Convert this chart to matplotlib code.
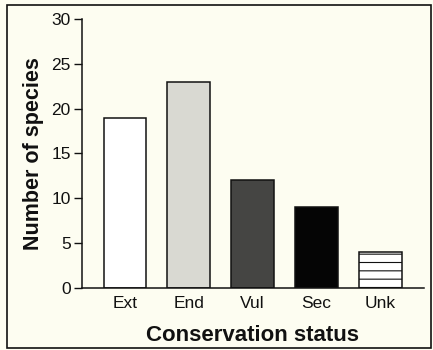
import matplotlib
matplotlib.use("Agg")
import matplotlib.pyplot as plt
from matplotlib.patches import Rectangle

categories = ["Ext", "End", "Vul", "Sec", "Unk"]
species_counts = [19, 23, 12, 9, 4]
y_ticks = [0, 5, 10, 15, 20, 25, 30]

bar_faces = ["#ffffff", "#d9d9d2", "#454543", "#050505", "#ffffff"]
bar_hatches = [None, None, None, None, "--"]

plt.rcParams["font.family"] = ["Liberation Sans", "DejaVu Sans"]
plt.rcParams["hatch.color"] = "#8a8a8a"
plt.rcParams["hatch.linewidth"] = 0.8

bg = "#fdfdf1"
fig = plt.figure(figsize=(4.33, 3.5), dpi=100, facecolor=bg)
ax = fig.add_axes([0.189, 0.178, 0.79, 0.767])
ax.set_facecolor(bg)

x = list(range(len(categories)))
bars = ax.bar(x, species_counts, width=0.665, color=bar_faces,
              edgecolor="#111111", linewidth=1.1)
for b, h in zip(bars, bar_hatches):
    if h:
        b.set_hatch(h)

ax.set_xlim(-0.673, 4.68)
ax.set_ylim(0, 30)
ax.set_yticks(y_ticks)
ax.set_xticks(x)
ax.set_xticklabels(categories)
ax.tick_params(axis="y", direction="out", length=6, width=1.0,
               labelsize=12.5, pad=2, colors="#111111")
ax.tick_params(axis="x", length=0, labelsize=12.5, pad=6, colors="#111111")

for side in ("top", "right"):
    ax.spines[side].set_visible(False)
for side in ("left", "bottom"):
    ax.spines[side].set_linewidth(1.1)
    ax.spines[side].set_color("#111111")

ax.set_ylabel("Number of species", fontsize=15.5, fontweight="bold",
              color="#111111", labelpad=5)
ax.set_xlabel("Conservation status", fontsize=16, fontweight="bold",
              color="#111111", labelpad=10)

frame = Rectangle((0.017, 0.006), 0.978, 0.981, transform=fig.transFigure,
                  fill=False, edgecolor="#111111", linewidth=1.2)
fig.patches.append(frame)

fig.savefig("out.png", dpi=100, facecolor=bg)
